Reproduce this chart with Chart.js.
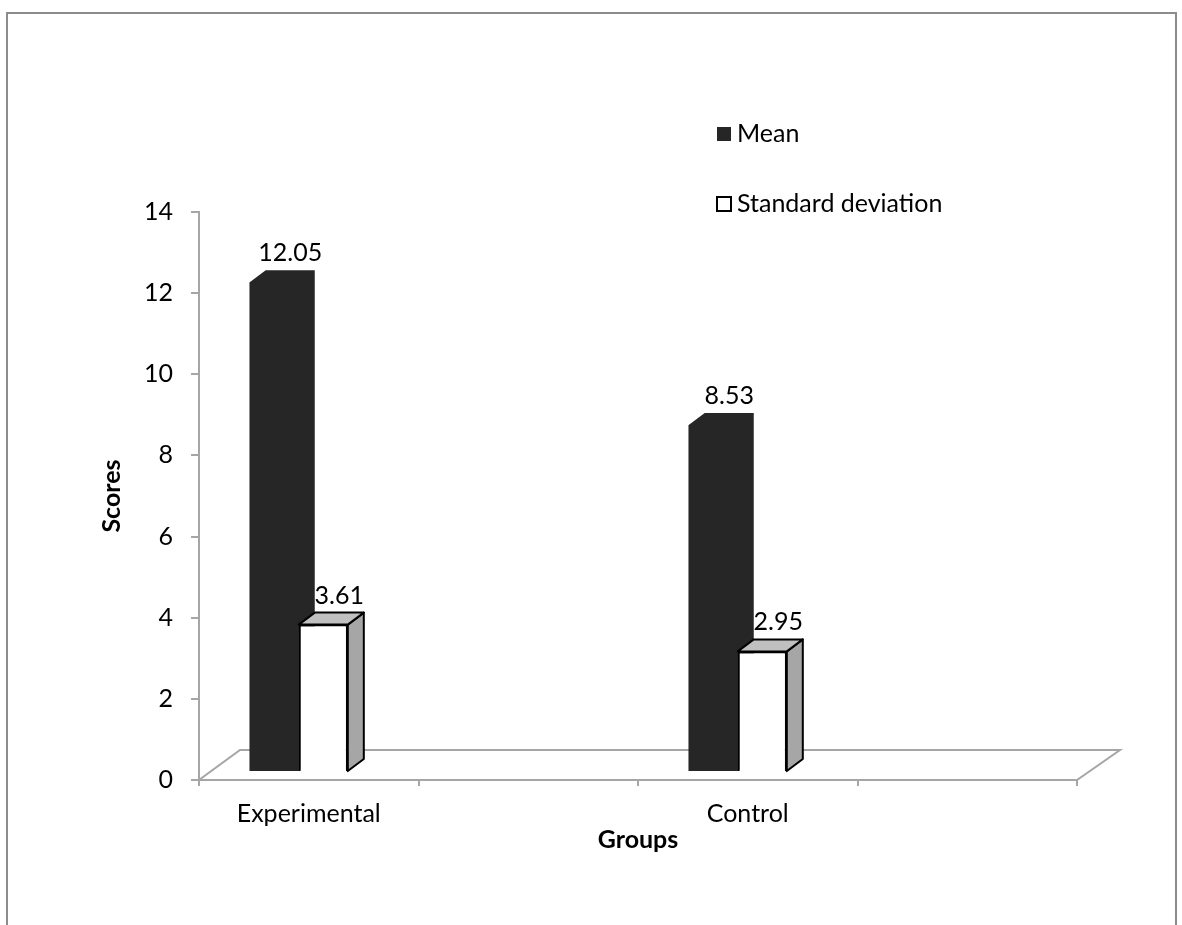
<!DOCTYPE html>
<html lang="en">
<head>
    <meta charset="UTF-8">
    <title>Scores by group</title>
    <script src="https://cdn.jsdelivr.net/npm/chart.js"></script>
    <style>
        html, body {
            margin: 0;
            padding: 0;
            background: #fff;
        }
        #wrap {
            width: 1182px;
            height: 925px;
        }
    </style>
</head>
<body>

    <div id="wrap"><canvas id="scoreChart" width="1182" height="925"></canvas></div>

    <script>
        // Chart values
        const groups = ['Experimental', '', 'Control', ''];
        const meanScores = [12.05, null, 8.53, null];
        const sdScores = [3.61, null, 2.95, null];
        const scoreTicks = [0, 2, 4, 6, 8, 10, 12, 14];

        const FONT = 'Lato, Carlito, Calibri, sans-serif';
        const DEPTH_X = 16;
        const DEPTH_Y = -12;
        const SHIFT_X = -10;

        function barBox(el) {
            const p = el.getProps(['x', 'y', 'base', 'width'], true);
            return { left: p.x - p.width / 2, right: p.x + p.width / 2, top: p.y, base: p.base, cx: p.x };
        }

        function poly(ctx, pts, fill, stroke) {
            ctx.beginPath();
            ctx.moveTo(pts[0][0], pts[0][1]);
            for (let i = 1; i < pts.length; i++) ctx.lineTo(pts[i][0], pts[i][1]);
            ctx.closePath();
            ctx.fillStyle = fill;
            ctx.fill();
            if (stroke) {
                ctx.strokeStyle = stroke;
                ctx.lineWidth = 2;
                ctx.lineJoin = 'round';
                ctx.stroke();
            }
        }

        const bars3d = {
            id: 'bars3d',
            beforeDraw(chart) {
                const ctx = chart.ctx;
                ctx.save();
                ctx.strokeStyle = '#8c8c8c';
                ctx.lineWidth = 2;
                ctx.beginPath();
                ctx.moveTo(7, 940);
                ctx.lineTo(7, 13);
                ctx.lineTo(1176, 13);
                ctx.lineTo(1176, 940);
                ctx.stroke();
                ctx.restore();
            },
            beforeDatasetsDraw(chart) {
                const ctx = chart.ctx;
                const a = chart.chartArea;
                // floor of the 3d plot
                ctx.save();
                ctx.strokeStyle = '#a6a6a6';
                ctx.lineWidth = 2;
                ctx.beginPath();
                ctx.moveTo(a.left, a.bottom);
                ctx.lineTo(a.right, a.bottom);
                ctx.lineTo(a.right + 43, a.bottom - 30);
                ctx.lineTo(a.left + 41, a.bottom - 30);
                ctx.closePath();
                ctx.stroke();
                ctx.restore();

                ctx.save();
                ctx.translate(SHIFT_X, 0);
                // mean bars sit behind the sd bars: one dark silhouette, drawn first
                const ds = chart.data.datasets[0];
                chart.getDatasetMeta(0).data.forEach((el, j) => {
                    if (ds.data[j] == null) return;
                    const b = barBox(el);
                    poly(ctx, [[b.left, b.top], [b.left + DEPTH_X, b.top + DEPTH_Y],
                               [b.right + DEPTH_X, b.top + DEPTH_Y], [b.right + DEPTH_X, b.base + DEPTH_Y],
                               [b.right, b.base], [b.left, b.base]], ds.backgroundColor, null);
                });
            },
            afterDatasetsDraw(chart) {
                const ctx = chart.ctx;
                const sd = chart.data.datasets[1];
                chart.getDatasetMeta(1).data.forEach((el, j) => {
                    if (sd.data[j] == null) return;
                    const b = barBox(el);
                    poly(ctx, [[b.right, b.top], [b.right + DEPTH_X, b.top + DEPTH_Y],
                               [b.right + DEPTH_X, b.base + DEPTH_Y], [b.right, b.base]], '#a6a6a6', '#000');
                    poly(ctx, [[b.left, b.top], [b.right, b.top],
                               [b.right + DEPTH_X, b.top + DEPTH_Y], [b.left + DEPTH_X, b.top + DEPTH_Y]], '#c0c0c0', '#000');
                });

                // value labels
                ctx.font = '25px ' + FONT;
                ctx.fillStyle = '#000';
                ctx.textAlign = 'center';
                ctx.textBaseline = 'middle';
                chart.data.datasets.forEach((ds, i) => {
                    chart.getDatasetMeta(i).data.forEach((el, j) => {
                        if (ds.data[j] == null) return;
                        const b = barBox(el);
                        ctx.fillText(ds.data[j].toFixed(2), b.cx + DEPTH_X, b.top - 29);
                    });
                });
                ctx.restore();

                // legend
                const items = [
                    { y: 134, ds: chart.data.datasets[0] },
                    { y: 204, ds: chart.data.datasets[1] }
                ];
                ctx.save();
                ctx.font = '25px ' + FONT;
                ctx.textAlign = 'left';
                ctx.textBaseline = 'middle';
                items.forEach(it => {
                    ctx.fillStyle = it.ds.backgroundColor;
                    ctx.fillRect(717, it.y - 7, 14, 14);
                    if (it.ds.borderWidth) {
                        ctx.strokeStyle = '#000';
                        ctx.lineWidth = 2;
                        ctx.strokeRect(717, it.y - 7, 14, 14);
                    }
                    ctx.fillStyle = '#000';
                    ctx.fillText(it.ds.label, 737, it.y);
                });
                ctx.restore();
            }
        };

        Chart.defaults.font.family = FONT;
        Chart.defaults.font.size = 25;
        Chart.defaults.color = '#000';

        const ctx = document.getElementById('scoreChart').getContext('2d');
        const chart = new Chart(ctx, {
            type: 'bar',
            data: {
                labels: groups,
                datasets: [
                    {
                        label: 'Mean',
                        data: meanScores,
                        yAxisID: 'yb',
                        backgroundColor: '#262626',
                        borderWidth: 0,
                        categoryPercentage: 0.447,
                        barPercentage: 1
                    },
                    {
                        label: 'Standard deviation',
                        data: sdScores,
                        yAxisID: 'yb',
                        backgroundColor: '#ffffff',
                        borderColor: '#000000',
                        borderWidth: 2,
                        categoryPercentage: 0.447,
                        barPercentage: 1
                    }
                ]
            },
            options: {
                responsive: false,
                animation: false,
                layout: {
                    padding: { top: 212, right: 105, bottom: 0, left: 0 }
                },
                plugins: {
                    legend: { display: false },
                    tooltip: { enabled: false }
                },
                scales: {
                    x: {
                        grid: {
                            offset: true,
                            drawOnChartArea: false,
                            tickLength: 6,
                            color: '#a6a6a6',
                            lineWidth: 2
                        },
                        border: { color: '#a6a6a6', width: 2 },
                        ticks: { padding: 13, maxRotation: 0 },
                        title: {
                            display: true,
                            text: 'Groups',
                            font: { weight: 'bold', size: 25 },
                            padding: { top: 0, bottom: 70 }
                        },
                        afterFit(scale) { scale.height = 145; }
                    },
                    y: {
                        min: 0,
                        max: 14,
                        afterBuildTicks(scale) {
                            scale.ticks = scoreTicks.map(v => ({ value: v }));
                        },
                        grid: {
                            drawOnChartArea: false,
                            tickLength: 8,
                            color: '#a6a6a6',
                            lineWidth: 2
                        },
                        border: { color: '#a6a6a6', width: 2 },
                        ticks: { padding: 18 },
                        title: {
                            display: true,
                            text: 'Scores',
                            font: { weight: 'bold', size: 25 },
                            padding: { top: 97, bottom: 0 }
                        },
                        afterFit(scale) { scale.width = 199; }
                    },
                    // bars stand a little behind the front edge of the floor
                    yb: {
                        display: false,
                        min: -0.22,
                        max: 13.78
                    }
                }
            },
            plugins: [bars3d]
        });
    </script>
</body>
</html>
